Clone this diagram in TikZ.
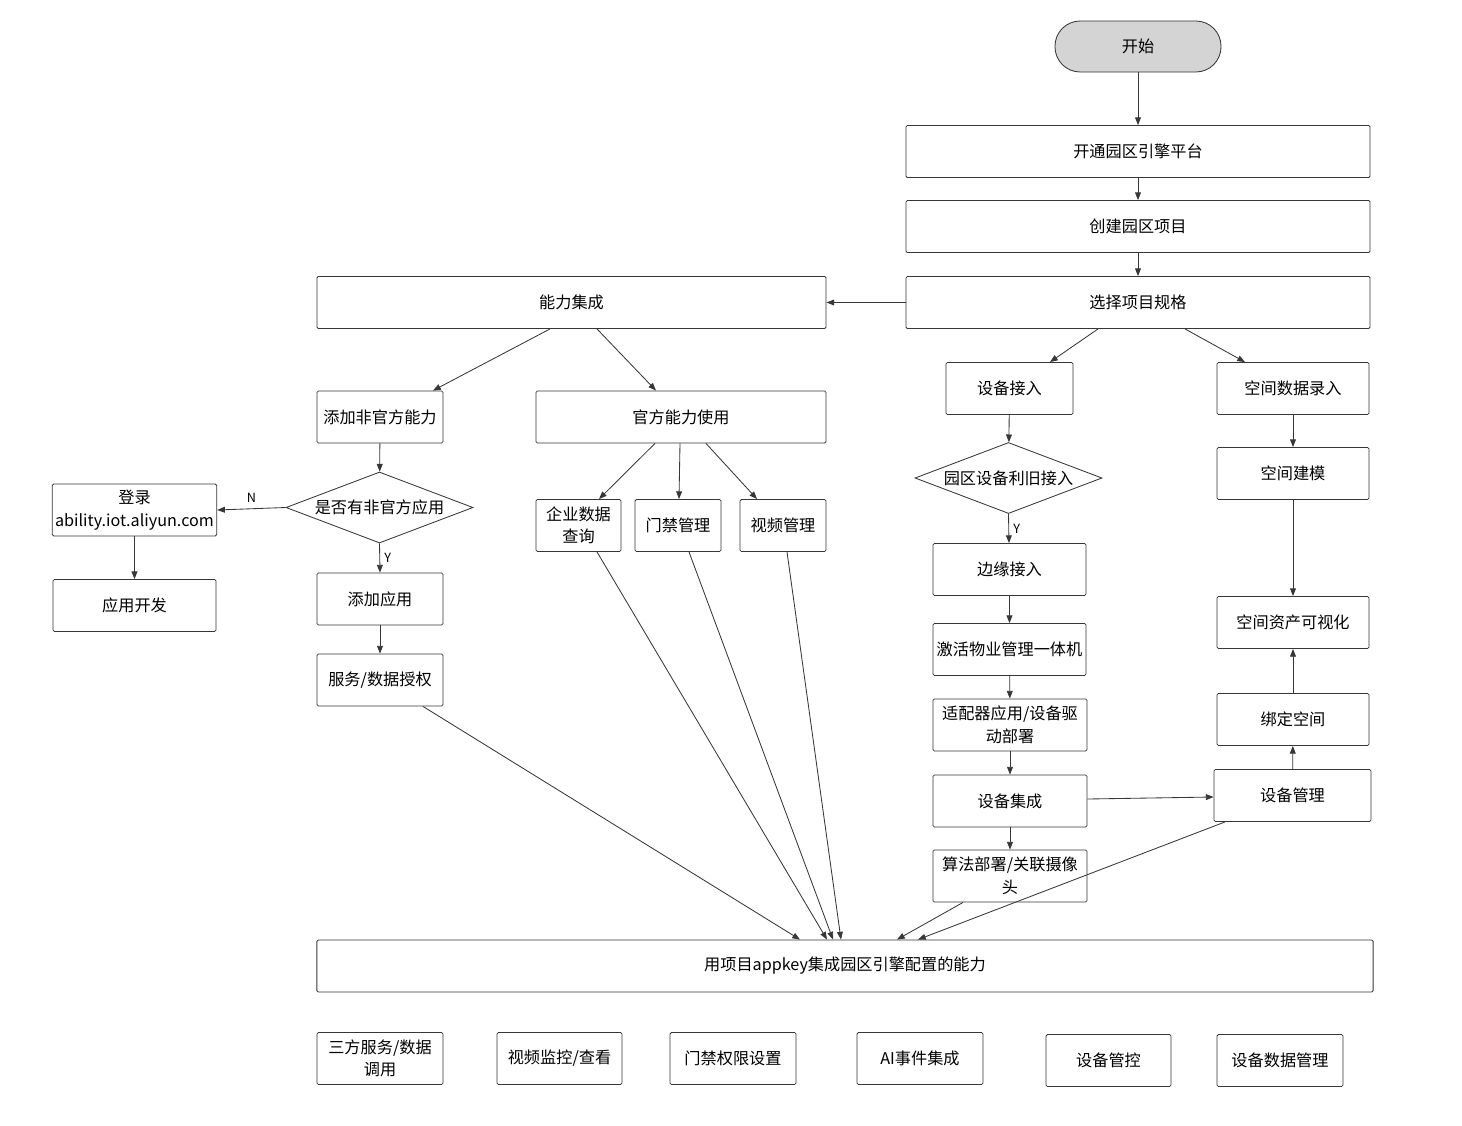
\documentclass[tikz,border=0pt]{standalone}
\usepackage{fontspec}
\setmainfont{Noto Sans CJK SC}
\usetikzlibrary{positioning,calc,shapes.geometric,arrows.meta}
\definecolor{LineGray}{RGB}{55,55,55}
\definecolor{StartGray}{RGB}{212,212,212}
\tikzset{
    box/.style={rectangle, draw=LineGray, fill=white, line width=0.6pt, rounded corners=1pt, minimum height=1.3cm, inner sep=2pt, align=center, font=\fontsize{11.5}{16}\selectfont},
    decision/.style={diamond, draw=LineGray, fill=white, line width=0.6pt, aspect=2.6, inner sep=0pt, minimum width=4.675cm, minimum height=1.775cm, font=\fontsize{11.5}{16}\selectfont},
    startnode/.style={rectangle, draw=LineGray, fill=StartGray, line width=0.6pt, rounded corners=0.63cm, minimum width=4.15cm, minimum height=1.275cm, font=\fontsize{11.5}{16}\selectfont},
    flow/.style={draw=LineGray, line width=0.6pt, -{Triangle[length=5.5pt,width=4.2pt]}},
    yn/.style={font=\fontsize{9}{10}\selectfont, inner sep=1pt}
}
\begin{document}
\begin{tikzpicture}[x=0.025cm, y=-0.025cm]
    \useasboundingbox (0,0) rectangle (1462,1126);

    % --- main column ---
    \node[startnode] (start) at (1138,46.5) {开始};
    \node[box, minimum width=11.6cm] (kaitong) at (1138,151.5) {开通园区引擎平台};
    \node[box, minimum width=11.6cm] (chuangjian) at (1138,226.5) {创建园区项目};
    \node[box, minimum width=11.6cm] (guige) at (1138,302.5) {选择项目规格};
    \node[box, minimum width=12.725cm] (nengli) at (571.5,302.5) {能力集成};

    % --- left branch ---
    \node[box, minimum width=3.15cm] (feiguanfang) at (380,417) {添加非官方能力};
    \node[box, minimum width=7.25cm] (guanfang) at (681,417) {官方能力使用};
    \node[decision] (shifou) at (379.5,507.5) {是否有非官方应用};
    \node[box, minimum width=4.075cm] (denglu) at (134.5,510) {登录\\ability.iot.aliyun.com};
    \node[box, minimum width=4.075cm] (kaifa) at (134.5,605.5) {应用开发};
    \node[box, minimum width=3.15cm] (tianjia) at (380,599) {添加应用};
    \node[box, minimum width=3.15cm] (shouquan) at (380,680) {服务/数据授权};
    \node[box, minimum width=2.125cm] (qiye) at (578.5,525.5) {企业数据\\查询};
    \node[box, minimum width=2.15cm] (menjin) at (678,525.5) {门禁管理};
    \node[box, minimum width=2.15cm] (shipin) at (783,525.5) {视频管理};

    % --- device branch ---
    \node[box, minimum width=3.175cm] (jieru) at (1009.5,388.5) {设备接入};
    \node[decision] (liyiu) at (1008.5,478) {园区设备利旧接入};
    \node[box, minimum width=3.825cm] (bianyuan) at (1009.5,569.5) {边缘接入};
    \node[box, minimum width=3.825cm] (jihuo) at (1009.5,649.5) {激活物业管理一体机};
    \node[box, minimum width=3.85cm] (shipeiqi) at (1010,725) {适配器应用/设备驱\\动部署};
    \node[box, minimum width=3.85cm] (jicheng) at (1010,801) {设备集成};
    \node[box, minimum width=3.85cm] (suanfa) at (1010,876) {算法部署/关联摄像\\头};

    % --- space branch ---
    \node[box, minimum width=3.8cm] (luru) at (1293,388.5) {空间数据录入};
    \node[box, minimum width=3.8cm] (jianmo) at (1293,473.5) {空间建模};
    \node[box, minimum width=3.8cm] (keshihua) at (1293,622.5) {空间资产可视化};
    \node[box, minimum width=3.8cm] (bangding) at (1293,719.5) {绑定空间};
    \node[box, minimum width=3.925cm] (sbguanli) at (1292.5,795.5) {设备管理};

    % --- bottom ---
    \node[box, minimum width=26.4cm] (appkey) at (845,966) {用项目appkey集成园区引擎配置的能力};
    \node[box, minimum width=3.15cm] (b1) at (380,1058.5) {三方服务/数据\\调用};
    \node[box, minimum width=3.125cm] (b2) at (559.5,1058.5) {视频监控/查看};
    \node[box, minimum width=3.15cm] (b3) at (733,1058.5) {门禁权限设置};
    \node[box, minimum width=3.15cm] (b4) at (920,1058.5) {AI事件集成};
    \node[box, minimum width=3.125cm] (b5) at (1108.5,1060.5) {设备管控};
    \node[box, minimum width=3.15cm] (b6) at (1280,1060.5) {设备数据管理};

    % --- straight arrows ---
    \foreach \a/\b in {start/kaitong, kaitong/chuangjian, chuangjian/guige, feiguanfang/shifou,
        denglu/kaifa, tianjia/shouquan, jieru/liyiu, bianyuan/jihuo, jihuo/shipeiqi,
        shipeiqi/jicheng, jicheng/suanfa, luru/jianmo, jianmo/keshihua,
        sbguanli/bangding, bangding/keshihua} {
        \draw[flow] (\a) -- (\b);
    }
    \draw[flow] (guige.west) -- (nengli.east);
    \draw[flow] (shifou.west) -- (denglu.east) node[yn, midway, above=3pt] {N};
    \draw[flow] (shifou.south) -- (tianjia.north) node[yn, midway, right=2pt] {Y};
    \draw[flow] (liyiu.south) -- ($(bianyuan.north)+(-0.5,0)$) node[yn, midway, right=2pt] {Y};
    \draw[flow] ($(jicheng.east)+(0,-2)$) -- ($(sbguanli.west)+(0,1.5)$);

    % --- slanted arrows ---
    \draw[flow] ($(nengli.south)+(-21.5,0)$) -- ($(feiguanfang.north)+(53,0)$);
    \draw[flow] ($(nengli.south)+(25.5,0)$) -- ($(guanfang.north)+(-25,0)$);
    \draw[flow] ($(guanfang.south)+(-26,0)$) -- ($(qiye.north)+(20.5,0)$);
    \draw[flow] ($(guanfang.south)+(-1,0)$) -- ($(menjin.north)+(1,0)$);
    \draw[flow] ($(guanfang.south)+(25,0)$) -- ($(shipin.north)+(-26,0)$);
    \draw[flow] ($(guige.south)+(-40,0)$) -- ($(jieru.north)+(40.5,0)$);
    \draw[flow] ($(guige.south)+(47,0)$) -- ($(luru.north)+(-48,0)$);

    % --- into appkey ---
    \foreach \src/\dx/\ex in {shouquan/43/-45, qiye/18.5/-18, menjin/11/-12, shipin/4/-4, suanfa/-47/52, sbguanli/-67.5/73} {
        \draw[flow] ($(\src.south)+(\dx,0)$) -- ($(appkey.north)+(\ex,0)$);
    }
\end{tikzpicture}
\end{document}
